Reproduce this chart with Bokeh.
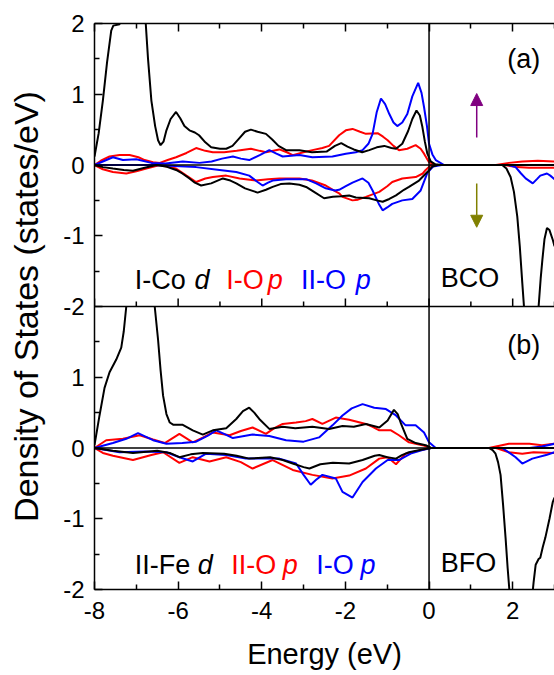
import numpy as np
from bokeh.plotting import figure
from bokeh.models import Range1d, LinearAxis, FixedTicker, Span, Arrow, NormalHead
from bokeh.core.properties import value
from bokeh.embed import file_html
from bokeh.resources import INLINE

nan = float("nan")

# ---------------- data ----------------
# Panel (a) BCO  -- plotted on the "upper" range
a_cod_up_e = [-8.0, -7.9, -7.8, -7.7, -7.6, -7.55, -7.4, -7.3, -7.0, -6.85, -6.78, -6.72, -6.64, -6.55, -6.48, -6.42, -6.35, -6.28, -6.18, -6.05, -5.95, -5.85, -5.73, -5.6, -5.5, -5.35, -5.21, -5.0, -4.85, -4.7, -4.55, -4.4, -4.26, -4.1, -3.9, -3.75, -3.6, -3.42, -3.1, -2.8, -2.45, -2.25, -2.1, -1.95, -1.8, -1.6, -1.43, -1.25, -1.07, -0.9, -0.79, -0.64, -0.5, -0.4, -0.3, -0.22, -0.16, -0.1, -0.04, 0.04, 0.15, 0.3, 3.0]
a_cod_up = [0.12, 0.45, 0.91, 1.45, 1.90, 1.97, 1.99, 2.4, 2.8, 2.4, 2.05, 1.5, 0.91, 0.55, 0.35, 0.28, 0.33, 0.49, 0.65, 0.75, 0.66, 0.55, 0.49, 0.46, 0.42, 0.32, 0.25, 0.23, 0.23, 0.27, 0.37, 0.47, 0.50, 0.47, 0.44, 0.36, 0.27, 0.21, 0.21, 0.18, 0.19, 0.27, 0.31, 0.26, 0.22, 0.18, 0.21, 0.25, 0.27, 0.24, 0.23, 0.30, 0.48, 0.65, 0.77, 0.70, 0.54, 0.33, 0.16, 0.05, 0.01, 0.0, 0.0]

a_cod_dn_e = [-8.0, -7.8, -7.56, -7.3, -7.08, -6.8, -6.52, -6.3, -6.05, -5.9, -5.73, -5.6, -5.45, -5.21, -4.93, -4.75, -4.61, -4.4, -4.1, -3.9, -3.74, -3.55, -3.34, -3.1, -2.94, -2.75, -2.51, -2.3, -2.1, -1.91, -1.75, -1.43, -1.25, -1.11, -0.95, -0.79, -0.6, -0.48, -0.24, -0.04, 0.08, 0.2, 1.5, 1.75, 1.85, 1.95, 2.03, 2.11, 2.17, 2.23, 2.27, nan, 2.62, 2.67, 2.71, 2.76, 2.82, 2.88, 2.96, 3.0]
a_cod_dn = [0.0, -0.03, -0.05, -0.07, -0.08, -0.04, 0.0, -0.02, -0.07, -0.12, -0.19, -0.25, -0.29, -0.26, -0.19, -0.22, -0.26, -0.33, -0.39, -0.35, -0.31, -0.27, -0.26, -0.28, -0.31, -0.38, -0.47, -0.45, -0.44, -0.43, -0.46, -0.47, -0.50, -0.52, -0.48, -0.43, -0.35, -0.31, -0.22, -0.10, -0.02, 0.0, 0.0, 0.0, -0.05, -0.17, -0.38, -0.73, -1.15, -1.67, -2.0, nan, -2.0, -1.6, -1.34, -1.05, -0.89, -0.92, -1.06, -1.15]

a_op_up_e = [-8.0, -7.85, -7.64, -7.4, -7.16, -6.95, -6.8, -6.6, -6.44, -6.25, -6.05, -5.8, -5.57, -5.35, -5.17, -4.9, -4.6, -4.26, -4.05, -3.9, -3.58, -3.4, -3.26, -3.0, -2.79, -2.55, -2.39, -2.15, -1.99, -1.83, -1.65, -1.51, -1.23, -1.1, -0.99, -0.85, -0.72, -0.52, -0.32, -0.2, -0.12, 0.0, 0.16, 1.6, 1.91, 2.23, 2.6, 3.0]
a_op_up = [0.0, 0.06, 0.12, 0.14, 0.14, 0.11, 0.07, 0.04, 0.03, 0.07, 0.11, 0.17, 0.24, 0.20, 0.18, 0.18, 0.20, 0.23, 0.20, 0.18, 0.22, 0.18, 0.14, 0.18, 0.21, 0.24, 0.27, 0.42, 0.49, 0.51, 0.47, 0.44, 0.45, 0.40, 0.35, 0.27, 0.21, 0.23, 0.28, 0.23, 0.16, 0.04, 0.0, 0.0, 0.03, 0.05, 0.06, 0.05]

a_op_dn_e = [-8.0, -7.8, -7.56, -7.24, -7.0, -6.76, -6.44, -6.05, -5.8, -5.57, -5.35, -5.17, -4.85, -4.53, -4.14, -3.85, -3.58, -3.1, -2.8, -2.47, -2.3, -2.15, -2.07, -1.83, -1.7, -1.51, -1.19, -1.0, -0.88, -0.64, -0.32, -0.15, -0.08, 0.05, 1.8, 2.1, 2.39, 3.0]
a_op_dn = [0.0, -0.06, -0.10, -0.12, -0.09, -0.05, 0.0, -0.05, -0.15, -0.24, -0.19, -0.17, -0.15, -0.19, -0.22, -0.20, -0.19, -0.19, -0.22, -0.29, -0.35, -0.40, -0.45, -0.50, -0.49, -0.45, -0.38, -0.30, -0.24, -0.19, -0.17, -0.12, -0.07, 0.0, 0.0, -0.03, -0.04, -0.04]

a_iiop_up_e = [-8.0, -7.8, -7.56, -7.32, -7.0, -6.64, -6.3, -5.89, -5.49, -5.2, -4.95, -4.69, -4.5, -4.3, -4.05, -3.82, -3.65, -3.5, -3.1, -2.79, -2.31, -1.99, -1.75, -1.59, -1.45, -1.35, -1.25, -1.15, -1.05, -0.95, -0.85, -0.76, -0.64, -0.52, -0.4, -0.26, -0.18, -0.12, -0.05, 0.0, 0.08, 0.16, 0.36, 3.0]
a_iiop_up = [0.0, 0.05, 0.11, 0.07, 0.08, 0.03, 0.02, 0.05, 0.03, 0.05, 0.09, 0.12, 0.09, 0.07, 0.14, 0.21, 0.16, 0.12, 0.14, 0.11, 0.12, 0.16, 0.18, 0.21, 0.30, 0.44, 0.75, 0.94, 0.86, 0.72, 0.60, 0.55, 0.60, 0.72, 0.97, 1.16, 1.02, 0.82, 0.55, 0.30, 0.15, 0.07, 0.0, 0.0]

a_iiop_dn_e = [-8.0, -6.6, -5.57, -5.01, -4.61, -4.3, -4.1, -3.98, -3.85, -3.74, -3.42, -2.94, -2.7, -2.47, -2.25, -2.15, -1.99, -1.83, -1.59, -1.45, -1.35, -1.2, -1.11, -1.0, -0.88, -0.64, -0.4, -0.2, -0.04, 0.1, 0.3, 1.9, 2.07, 2.2, 2.31, 2.48, 2.58, 2.66, 2.82, 2.9, 3.0]
a_iiop_dn = [0.0, 0.0, -0.03, -0.07, -0.10, -0.15, -0.24, -0.29, -0.25, -0.22, -0.20, -0.20, -0.26, -0.33, -0.36, -0.35, -0.30, -0.25, -0.19, -0.25, -0.36, -0.55, -0.64, -0.60, -0.55, -0.50, -0.48, -0.36, -0.11, -0.02, 0.0, 0.0, -0.03, -0.12, -0.19, -0.26, -0.20, -0.15, -0.12, -0.15, -0.20]

# Panel (b) BFO -- plotted on the default range
b_fed_up_e = [-8.0, -7.88, -7.76, -7.64, -7.48, -7.36, -7.3, -7.24, nan, -6.56, -6.48, -6.42, -6.36, -6.28, -6.2, -6.12, -5.9, -5.65, -5.41, -5.17, -4.85, -4.61, -4.45, -4.3, -4.18, -4.06, -3.82, -3.5, -3.2, -2.79, -2.39, -2.07, -1.8, -1.51, -1.19, -0.99, -0.84, -0.75, -0.68, -0.52, -0.32, -0.08, 0.05, 3.0]
b_fed_up = [0.04, 0.46, 0.85, 1.07, 1.25, 1.42, 1.65, 2.0, nan, 2.0, 1.53, 1.1, 0.74, 0.48, 0.36, 0.33, 0.33, 0.25, 0.19, 0.25, 0.28, 0.41, 0.52, 0.57, 0.50, 0.41, 0.27, 0.30, 0.28, 0.30, 0.27, 0.31, 0.30, 0.34, 0.29, 0.39, 0.54, 0.48, 0.36, 0.13, 0.07, 0.04, 0.0, 0.0]

b_fed_dn_e = [-8.0, -7.56, -7.08, -6.5, -6.2, -5.97, -5.7, -5.41, -4.9, -4.6, -4.3, -3.8, -3.5, -3.26, -3.0, -2.86, -2.6, -2.3, -1.91, -1.59, -1.3, -1.19, -1.0, -0.79, -0.65, -0.48, -0.16, 0.05, 1.43, 1.52, 1.59, 1.65, 1.71, 1.77, 1.83, 1.88, 1.92, 1.97, 2.2, 2.45, 2.5, 2.55, 2.62, 2.66, 2.72, 2.78, 2.88, 2.96, 3.0]
b_fed_dn = [0.0, -0.04, -0.07, -0.04, -0.07, -0.13, -0.09, -0.07, -0.08, -0.11, -0.15, -0.13, -0.17, -0.22, -0.27, -0.29, -0.23, -0.21, -0.22, -0.17, -0.11, -0.10, -0.13, -0.15, -0.10, -0.06, -0.02, 0.0, 0.0, -0.03, -0.08, -0.20, -0.38, -0.80, -1.27, -1.70, -2.0, -2.4, -2.6, -2.2, -1.9, -1.65, -1.57, -1.55, -1.40, -1.27, -1.0, -0.76, -0.70]

b_op_up_e = [-8.0, -7.72, -7.32, -6.92, -6.6, -6.32, -5.97, -5.65, -5.4, -5.17, -4.77, -4.5, -4.22, -3.9, -3.7, -3.5, -3.18, -2.95, -2.79, -2.55, -2.23, -1.91, -1.51, -1.35, -1.19, -0.91, -0.72, -0.48, -0.16, 0.05, 1.43, 1.91, 2.4, 2.7, 3.0]
b_op_up = [0.0, 0.11, 0.13, 0.18, 0.12, 0.07, 0.20, 0.08, 0.15, 0.22, 0.18, 0.24, 0.29, 0.20, 0.28, 0.34, 0.36, 0.38, 0.41, 0.34, 0.43, 0.40, 0.34, 0.30, 0.25, 0.25, 0.18, 0.08, 0.04, 0.0, 0.0, 0.06, 0.06, 0.04, 0.06]

b_op_dn_e = [-8.0, -7.8, -7.56, -7.08, -6.64, -6.36, -5.97, -5.65, -5.25, -4.85, -4.5, -4.22, -3.74, -3.26, -2.79, -2.31, -1.91, -1.51, -1.19, -0.99, -0.79, -0.56, -0.2, 0.05, 1.6, 1.91, 2.23, 2.5, 3.0]
b_op_dn = [0.0, -0.07, -0.11, -0.17, -0.10, -0.06, -0.21, -0.13, -0.19, -0.13, -0.20, -0.29, -0.17, -0.31, -0.38, -0.43, -0.39, -0.29, -0.15, -0.13, -0.23, -0.08, -0.03, 0.0, 0.0, -0.06, -0.08, -0.06, -0.07]

b_iop_up_e = [-8.0, -7.56, -7.24, -6.96, -6.6, -6.28, -5.9, -5.57, -5.3, -5.09, -4.9, -4.69, -4.22, -3.82, -3.42, -3.0, -2.63, -2.31, -2.07, -1.85, -1.59, -1.31, -1.03, -0.79, -0.56, -0.32, -0.12, 0.0, 0.16, 2.4, 2.7, 3.0]
b_iop_up = [0.0, 0.07, 0.13, 0.21, 0.11, 0.06, 0.07, 0.09, 0.17, 0.25, 0.20, 0.14, 0.19, 0.17, 0.11, 0.09, 0.15, 0.32, 0.46, 0.56, 0.62, 0.57, 0.55, 0.46, 0.32, 0.32, 0.22, 0.08, 0.0, 0.0, 0.02, 0.06]

b_iop_dn_e = [-8.0, -7.4, -6.8, -6.28, -5.97, -5.65, -5.33, -4.85, -4.38, -3.58, -3.18, -3.0, -2.83, -2.7, -2.55, -2.23, -2.07, -1.83, -1.59, -1.27, -0.99, -0.72, -0.44, -0.16, 0.05, 1.75, 1.95, 2.07, 2.23, 2.47, 2.8, 3.0]
b_iop_dn = [0.0, -0.06, -0.05, -0.06, -0.13, -0.19, -0.08, -0.10, -0.15, -0.15, -0.22, -0.38, -0.52, -0.45, -0.38, -0.43, -0.62, -0.70, -0.48, -0.29, -0.17, -0.17, -0.08, -0.03, 0.0, 0.0, -0.08, -0.13, -0.22, -0.15, -0.10, -0.06]

# axis ticks (default range: lower panel -2..2, upper panel shown as 2..6)
x_ticks = [-8, -6, -4, -2, 0, 2]
x_minor = [-7, -5, -3, -1, 1, 3]
x_tick_labels = ["-8", "-6", "-4", "-2", "0", "2"]
y_ticks = [-2, -1, 0, 1, 2, 3, 4, 5, 6]
y_minor = [-1.5, -0.5, 0.5, 1.5, 2.5, 3.5, 4.5, 5.5]
y_tick_labels = ["-2", "-1", "0", "1", "-2", "-1", "0", "1", "2"]

# ---------------- figure ----------------
FONT = value("Liberation Sans")
W, H = 554, 675
BL, BT, BB = 94, 23, 86
frame_h = H - BT - BB
px_per_unit = frame_h / 8.0

p = figure(width=W, height=H, x_range=Range1d(-8, 3), y_range=Range1d(-2, 6),
           output_backend="svg", toolbar_location=None,
           x_axis_location=None, y_axis_location=None,
           min_border_left=BL, min_border_right=0, min_border_top=BT, min_border_bottom=BB)
p.extra_y_ranges = {"upper": Range1d(-6, 2)}
p.outline_line_color = None
p.background_fill_color = "white"
p.border_fill_color = "white"
for g in p.grid:
    g.visible = False


def style_axis(ax):
    ax.major_tick_in = 8
    ax.major_tick_out = 0
    ax.minor_tick_in = 5
    ax.minor_tick_out = 0
    ax.axis_line_width = 1.5
    ax.major_tick_line_width = 1.5
    ax.minor_tick_line_width = 1.5
    ax.axis_line_color = "black"
    ax.major_tick_line_color = "black"
    ax.minor_tick_line_color = "black"
    ax.major_label_text_font = "Liberation Sans"
    ax.major_label_text_font_size = "24px"
    ax.major_label_text_color = "black"
    ax.axis_label_text_font = "Liberation Sans"
    ax.axis_label_text_font_style = "normal"
    ax.axis_label_text_color = "black"


yax = LinearAxis(ticker=FixedTicker(ticks=y_ticks, minor_ticks=y_minor),
                 major_label_overrides={t: l for t, l in zip(y_ticks, y_tick_labels)},
                 axis_label="Density of States (states/eV)")
style_axis(yax)
yax.axis_label_text_font_size = "34px"
yax.major_label_standoff = 10
yax.axis_label_standoff = 15
p.add_layout(yax, "left")

xax = LinearAxis(ticker=FixedTicker(ticks=x_ticks, minor_ticks=x_minor),
                 major_label_overrides={t: l for t, l in zip(x_ticks, x_tick_labels)},
                 axis_label="Energy (eV)")
style_axis(xax)
xax.axis_label_text_font_size = "29px"
xax.major_label_standoff = 12
xax.axis_label_standoff = 16
p.add_layout(xax, "below")

tax = LinearAxis(ticker=FixedTicker(ticks=x_ticks, minor_ticks=x_minor),
                 major_label_overrides={t: "" for t in x_ticks})
style_axis(tax)
tax.major_label_text_font_size = "0px"
tax.major_label_standoff = 0
p.add_layout(tax, "above")

# boundary between the panels and inward ticks of panel (a)'s bottom edge
p.add_layout(Span(location=2, dimension="width", line_color="black", line_width=1.5))
p.segment(x0=x_ticks, y0=[2] * len(x_ticks), x1=x_ticks,
          y1=[2 + 8 / px_per_unit] * len(x_ticks), line_color="black", line_width=1.5)
p.segment(x0=x_minor, y0=[2] * len(x_minor), x1=x_minor,
          y1=[2 + 5 / px_per_unit] * len(x_minor), line_color="black", line_width=1.5)

# zero lines and Fermi level
p.add_layout(Span(location=0, dimension="width", line_color="black", line_width=1.5))
p.add_layout(Span(location=0, dimension="width", line_color="black", line_width=1.5,
                  y_range_name="upper"))
p.add_layout(Span(location=0, dimension="height", line_color="black", line_width=1.5))

BLACK, RED, BLUE = "#000000", "#ff0000", "#0000ff"
LW = 2

# panel (a)
for e, v, c in [(a_op_up_e, a_op_up, RED), (a_op_dn_e, a_op_dn, RED),
                (a_iiop_up_e, a_iiop_up, BLUE), (a_iiop_dn_e, a_iiop_dn, BLUE),
                (a_cod_up_e, a_cod_up, BLACK), (a_cod_dn_e, a_cod_dn, BLACK)]:
    p.line(np.array(e, dtype=float), np.array(v, dtype=float), line_color=c,
           line_width=LW, y_range_name="upper")

# panel (b)
for e, v, c in [(b_op_up_e, b_op_up, RED), (b_op_dn_e, b_op_dn, RED),
                (b_iop_up_e, b_iop_up, BLUE), (b_iop_dn_e, b_iop_dn, BLUE),
                (b_fed_up_e, b_fed_up, BLACK), (b_fed_dn_e, b_fed_dn, BLACK)]:
    p.line(np.array(e, dtype=float), np.array(v, dtype=float), line_color=c,
           line_width=LW)

TS = value("27px")


def txt(x, y, s, color, italic=False, upper=False):
    kw = dict(y_range_name="upper") if upper else {}
    p.text(x=[x], y=[y], text=[s], text_color=color, text_font=FONT, text_font_size=TS,
           text_font_style="italic" if italic else "normal",
           text_baseline="alphabetic", text_align="left", **kw)


# panel (a) labels
txt(-7.04, -1.62, "I-Co", BLACK, upper=True)
txt(-5.61, -1.62, "d", BLACK, italic=True, upper=True)
txt(-4.85, -1.62, "I-O", RED, upper=True)
txt(-3.86, -1.62, "p", RED, italic=True, upper=True)
txt(-3.06, -1.62, "II-O", BLUE, upper=True)
txt(-1.75, -1.62, "p", BLUE, italic=True, upper=True)
txt(0.28, -1.60, "BCO", BLACK, upper=True)
txt(1.87, 1.50, "(a)", BLACK, upper=True)

# panel (b) labels
txt(-7.04, -1.65, "II-Fe", BLACK)
txt(-5.53, -1.65, "d", BLACK, italic=True)
txt(-4.73, -1.65, "II-O", RED)
txt(-3.50, -1.65, "p", RED, italic=True)
txt(-2.70, -1.65, "I-O", BLUE)
txt(-1.64, -1.65, "p", BLUE, italic=True)
txt(0.28, -1.62, "BFO", BLACK)
txt(1.87, 1.46, "(b)", BLACK)

# spin arrows in panel (a)
PURPLE, OLIVE = "#800080", "#808000"
p.add_layout(Arrow(x_start=1.14, y_start=0.39, x_end=1.14, y_end=1.01,
                   end=NormalHead(size=12, fill_color=PURPLE, line_color=PURPLE),
                   line_color=PURPLE, line_width=1.5, y_range_name="upper"))
p.add_layout(Arrow(x_start=1.14, y_start=-0.26, x_end=1.14, y_end=-0.88,
                   end=NormalHead(size=12, fill_color=OLIVE, line_color=OLIVE),
                   line_color=OLIVE, line_width=1.5, y_range_name="upper"))

open("out.html", "w").write(file_html(p, INLINE))
